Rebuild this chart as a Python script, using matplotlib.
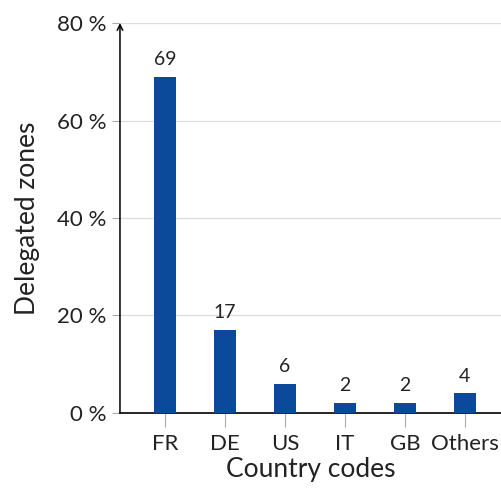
import matplotlib.pyplot as plt

countries = ['FR', 'DE', 'US', 'IT', 'GB', 'Others']
shares = [69, 17, 6, 2, 2, 4]
yticks = [0, 20, 40, 60, 80]

plt.rcParams['font.family'] = ['Lato', 'DejaVu Sans']

fig = plt.figure(figsize=(5.02, 4.91), dpi=100)
ax = fig.add_axes([0.239, 0.159, 0.761, 0.794])

x = range(len(countries))
ax.bar(x, shares, width=0.37, color='#0b4a9a', zorder=3)
for xi, v in zip(x, shares):
    ax.text(xi, v + 1.8, str(v), ha='center', va='bottom', fontsize=14,
            color='#222222')

ax.set_xlim(-0.75, 5.62)
ax.set_ylim(0, 80)
ax.set_yticks(yticks)
ax.set_yticklabels(['%d %%' % t for t in yticks], fontsize=16, color='#222222')
ax.set_xticks(list(x))
ax.set_xticklabels(countries, fontsize=16, color='#222222')
ax.yaxis.grid(True, color='#dddddd', lw=0.9, zorder=0)
ax.tick_params(axis='x', length=10, color='#aaaaaa', pad=5)
ax.tick_params(axis='y', length=6, color='#aaaaaa', pad=4)

for s in ['top', 'right', 'left']:
    ax.spines[s].set_visible(False)
ax.spines['bottom'].set_linewidth(1.2)
ax.annotate('', xy=(0, 1.0), xytext=(0, 0), xycoords='axes fraction',
            arrowprops=dict(arrowstyle='->', lw=1.1, color='black',
                            shrinkA=0, shrinkB=0), annotation_clip=False)

ax.set_xlabel('Country codes', fontsize=19, labelpad=2, color='#222222')
ax.set_ylabel('Delegated zones', fontsize=19, labelpad=12, color='#222222')

fig.savefig('out.png', dpi=100)
